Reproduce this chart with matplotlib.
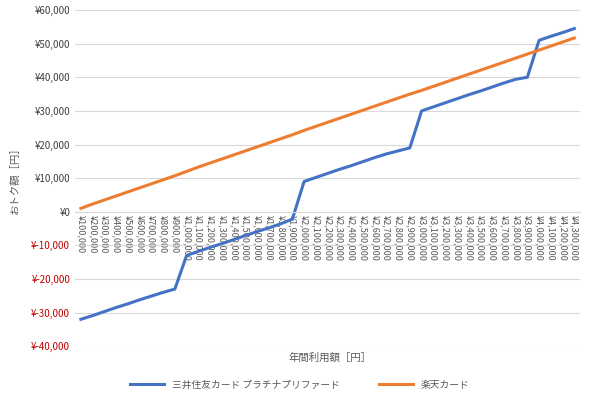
import matplotlib.pyplot as plt
from matplotlib.ticker import FuncFormatter

plt.rcParams['font.family'] = ['Noto Sans CJK JP', 'DejaVu Sans']

amounts = list(range(100000, 4300001, 100000))
smbc = [-32000, -30900, -29700, -28500, -27400, -26200, -25100, -24000, -23000,
        -13000, -11800, -10600, -9500, -8300, -7100, -5900, -4800, -3600, -2200,
        9000, 10200, 11400, 12600, 13700, 14900, 16100, 17200, 18100, 19000,
        30000, 31200, 32400, 33600, 34800, 35900, 37100, 38300, 39400, 40000,
        51000, 52200, 53300, 54500]
rakuten = [1000, 2300, 3500, 4700, 5900, 7100, 8300, 9500, 10700, 12000, 13300,
           14500, 15700, 16900, 18100, 19300, 20500, 21700, 22900, 24200, 25400,
           26600, 27800, 29000, 30200, 31400, 32600, 33800, 35000, 36100, 37300,
           38500, 39700, 40900, 42100, 43300, 44500, 45700, 46900, 48100, 49300,
           50500, 51700]
labels = ["三井住友カード プラチナプリファード", "楽天カード"]

fig = plt.figure(figsize=(6, 4.03), dpi=100)
ax = fig.add_axes([0.125, 0.141, 0.842, 0.834])
x = range(len(amounts))
ax.plot(x, smbc, color="#4472C4", lw=2.2, label=labels[0])
ax.plot(x, rakuten, color="#ED7D31", lw=2.2, label=labels[1])

ax.set_ylim(-40000, 60000)
ax.set_xlim(-0.5, len(amounts) - 0.5)
ax.set_yticks(range(-40000, 60001, 10000))
ax.yaxis.set_major_formatter(FuncFormatter(lambda v, p: f"¥{int(v):,}"))
for t, v in zip(ax.get_yticklabels(), range(-40000, 60001, 10000)):
    t.set_color("#C00000" if v < 0 else "#404040")
ax.tick_params(axis='y', length=0, labelsize=7)
ax.grid(axis='y', color="#d9d9d9", lw=0.8)
ax.set_axisbelow(True)
for s in ["top", "right", "left"]:
    ax.spines[s].set_visible(False)
ax.spines['bottom'].set_position(('data', 0))
ax.spines['bottom'].set_color("#d9d9d9")
ax.set_xticks(list(x))
ax.set_xticklabels([f"¥{a:,}" for a in amounts], rotation=-90, fontsize=6.5,
                   color="#595959", va='top', ha='center')
ax.tick_params(axis='x', length=0, pad=2)

fig.text(0.025, 0.56, "おトク額［円］", rotation=90, ha='center', va='center',
         fontsize=7.5, color="#595959")
fig.text(0.55, 0.113, "年間利用額［円］", ha='center', va='center',
         fontsize=7.5, color="#595959")
fig.legend(loc='center', bbox_to_anchor=(0.5, 0.045), ncol=2, frameon=False,
           fontsize=7, handlelength=3.5, columnspacing=4, labelcolor="#595959")
fig.savefig("out.png", dpi=100)
